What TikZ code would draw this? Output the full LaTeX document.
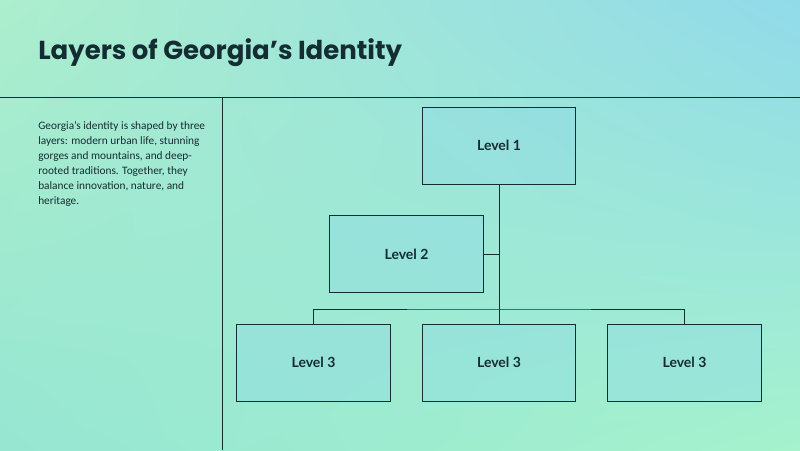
\documentclass[tikz,border=0pt]{standalone}
\usepackage{fontspec}
\setmainfont{Carlito}
\newfontfamily\titlefont{Poppins}
\newfontfamily\boxfont{Lato}
\usetikzlibrary{shadings}
\definecolor{tlgreen}{RGB}{172,238,205}
\definecolor{trblue}{RGB}{145,218,234}
\definecolor{blgreen}{RGB}{150,230,210}
\definecolor{brgreen}{RGB}{165,242,205}
\definecolor{midblue}{RGB}{140,216,232}
\definecolor{inkdark}{RGB}{20,45,50}
\tikzset{
  level/.style={rectangle,draw=inkdark,line width=0.6pt,minimum width=115pt,minimum height=57.75pt,
    fill=midblue,fill opacity=0.35,text opacity=1,font=\boxfont\bfseries\fontsize{10.5}{12}\selectfont,text=inkdark},
  link/.style={draw=inkdark,line width=0.5pt}
}
\begin{document}
\begin{tikzpicture}[x=0.75pt,y=-0.75pt]
 \useasboundingbox (0,0) rectangle (800,450);
 \shade[upper left=tlgreen,upper right=trblue,lower left=blgreen,lower right=brgreen] (0,0) rectangle (800,450);
 \node[anchor=west,font=\titlefont\bfseries\fontsize{19.5}{23}\selectfont,text=inkdark,inner sep=0pt] (title) at (38,53) {Layers of Georgia’s Identity};
 \draw[link] (0,97) -- (800,97);
 \draw[link] (222,97) -- (222,450);
 \node[anchor=north west,align=left,inner sep=0pt,font=\fontsize{8.5}{11.3}\selectfont,text=inkdark] (intro) at (38,121)
   {Georgia’s identity is shaped by three\\layers: modern urban life, stunning\\gorges and mountains, and deep-\\rooted traditions. Together, they\\balance innovation, nature, and\\heritage.};
 \node[level] (l1) at (499,145.5) {Level 1};
 \node[level] (l2) at (406.5,254) {Level 2};
 \node[level] (l3a) at (313.5,362.5) {Level 3};
 \node[level] (l3b) at (499,362.5) {Level 3};
 \node[level] (l3c) at (684.5,362.5) {Level 3};
 \coordinate (bus) at (499,309);
 \draw[link] (l1.south) -- (l3b.north);
 \draw[link] (l2.east) -- (l2.east -| l1.south);
 \draw[link] (l3a.north) |- (bus) -| (l3c.north);
\end{tikzpicture}
\end{document}
